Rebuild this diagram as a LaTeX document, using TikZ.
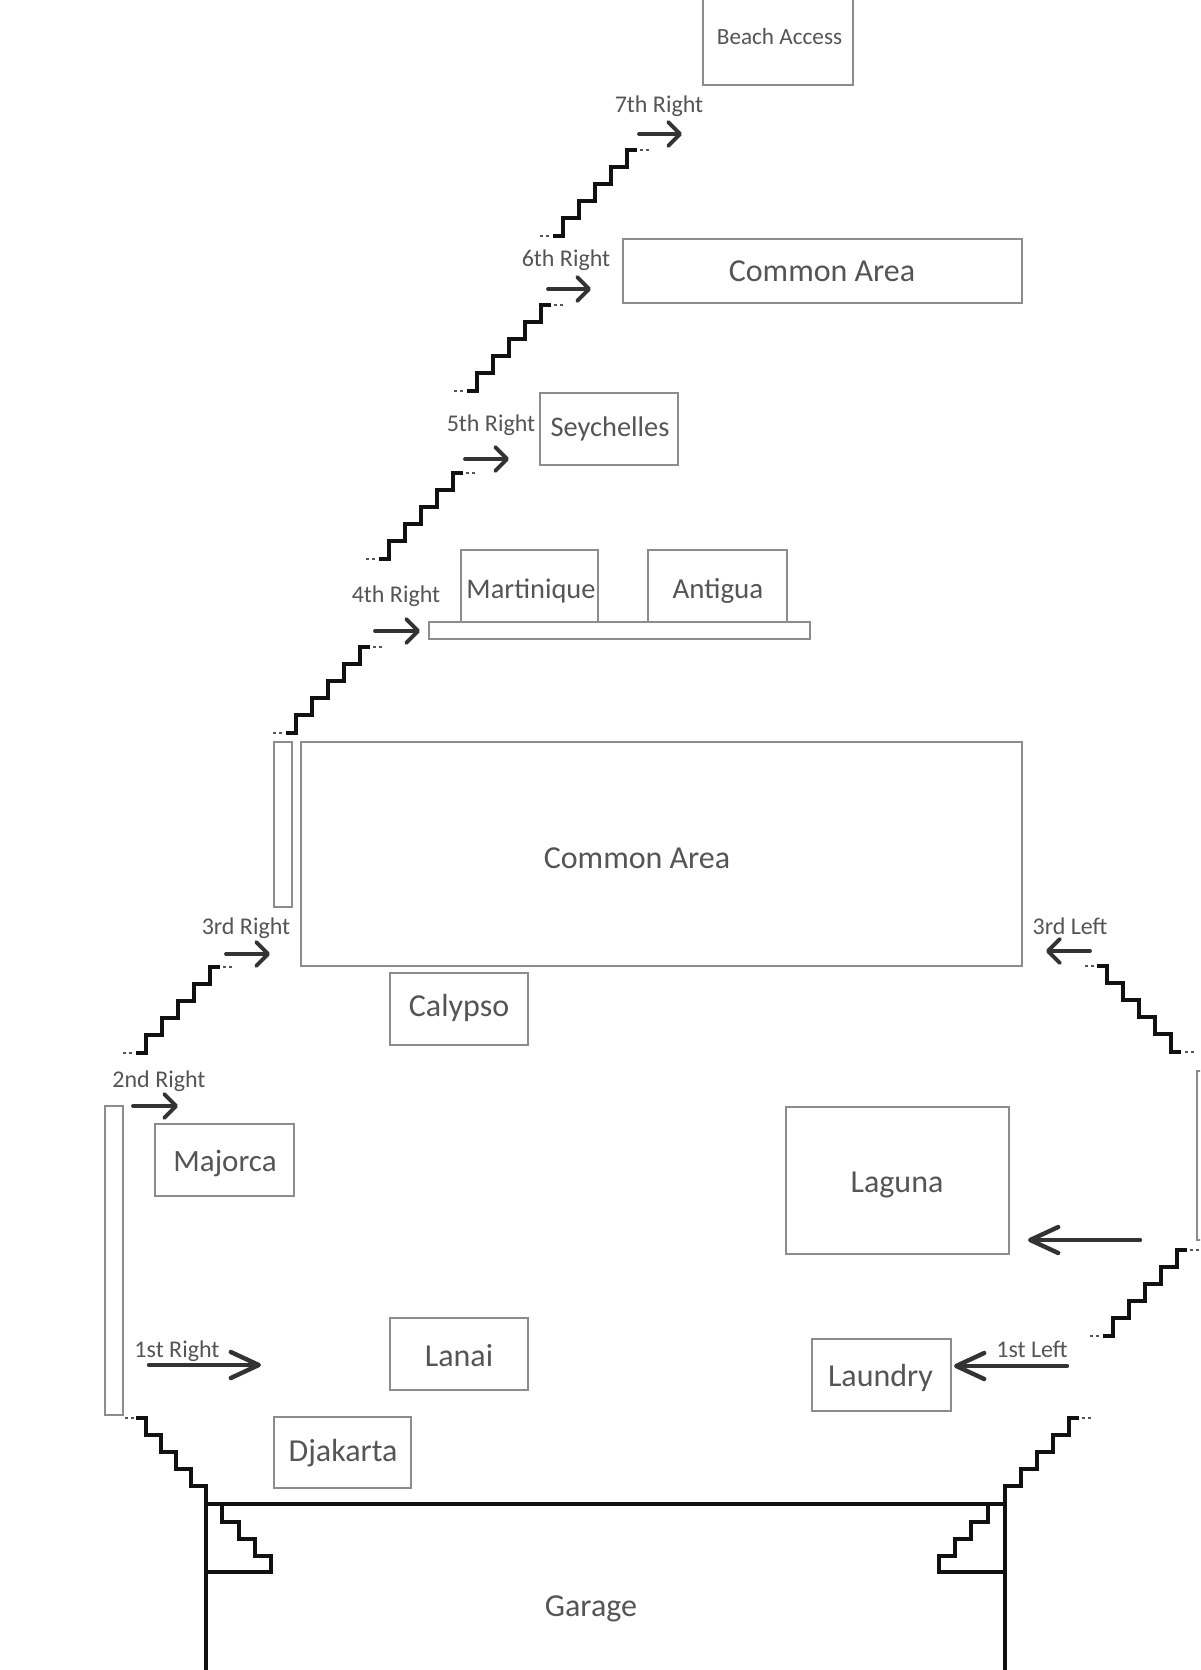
\documentclass[tikz,border=0pt]{standalone}
\usepackage{fontspec}
\setmainfont{Carlito}
\usetikzlibrary{arrows.meta}
\definecolor{boxgray}{HTML}{8C8C8C}
\definecolor{txtgray}{HTML}{555555}
\definecolor{ink}{HTML}{111111}
\definecolor{arrowink}{HTML}{333333}
\tikzset{
  roombox/.style={draw=boxgray,line width=0.9pt,fill=none,inner sep=0pt,outer sep=0pt},
  roomtext/.style={text=txtgray,font=\fontsize{16}{16}\selectfont,inner sep=0pt,text height=.7em,text depth=.2em,yshift=-2.6pt},
  turntext/.style={text=txtgray,font=\fontsize{12}{12}\selectfont,inner sep=0pt,text height=.7em,text depth=.2em,yshift=-1.6pt},
  stairline/.style={draw=ink,line width=1.75pt,line join=miter},
  stairdots/.style={draw=txtgray,line width=1.4pt,dash pattern=on 1.5pt off 1.5pt},
  wall/.style={draw=ink,line width=2pt,line join=miter},
  smallarrow/.style={draw=arrowink,line width=1.9pt,line cap=round,-{Straight Barb[length=6pt,width=12pt,round]}},
  bigarrow/.style={draw=arrowink,line width=2.2pt,line cap=round,-{Straight Barb[length=14pt,width=13pt,round]}}
}
\newcommand{\roomrect}[5]{%
  \pgfmathsetmacro{\rw}{(#4-#2)/2}\pgfmathsetmacro{\rh}{(#5-#3)/2}%
  \node[roombox,minimum width=\rw pt,minimum height=\rh pt] (#1) at ({(#2+#4)/2},{(#3+#5)/2}) {};}
\newcommand{\flight}[3]{%
  \begin{scope}[shift={(#1,#2)},xscale=#3]
    \draw[stairdots] (-23,0) -- (-11,0);
    \draw[stairdots] (77,-86) -- (88,-86);
    \draw[stairline] (-10,0) -- (0,0) -- (0,-18) -- (16,-18) -- (16,-35) -- (32,-35) -- (32,-52) -- (48,-52) -- (48,-69) -- (64,-69) -- (64,-86) -- (74,-86);
  \end{scope}}
\begin{document}
\begin{tikzpicture}[x=0.5pt,y=-0.5pt]
\clip (0,0) rectangle (1200,1670);
\fill[white] (0,0) rectangle (1200,1670);
% rooms
\roomrect{beach}{703}{-10}{853}{85}
\roomrect{commonup}{623}{239}{1022}{303}
\roomrect{seychelles}{540}{393}{678}{465}
\roomrect{martinique}{461}{550}{598}{622}
\roomrect{antigua}{648}{550}{787}{622}
\roomrect{corridor}{429}{622}{810}{639}
\roomrect{commonbig}{301}{742}{1022}{966}
\roomrect{narrow}{274}{742}{292}{907}
\roomrect{calypso}{390}{973}{528}{1045}
\roomrect{majorca}{155}{1124}{294}{1196}
\roomrect{longleft}{105}{1106}{123}{1415}
\roomrect{laguna}{786}{1107}{1009}{1254}
\roomrect{lanai}{390}{1318}{528}{1390}
\roomrect{laundry}{812}{1339}{951}{1411}
\roomrect{djakarta}{274}{1417}{411}{1488}
\roomrect{longright}{1197}{1071}{1215}{1240}
% room names
\node[roomtext,font=\fontsize{11.6}{11.6}\selectfont] (tbeach) at (779.5,34) {Beach Access};
\node[roomtext] (tcommonup) at (822,271) {Common Area};
\node[roomtext,font=\fontsize{14.2}{14.2}\selectfont] (tsey) at (610,426) {Seychelles};
\node[roomtext,font=\fontsize{14.2}{14.2}\selectfont] (tmart) at (531,588) {Martinique};
\node[roomtext,font=\fontsize{14.5}{14.5}\selectfont] (tant) at (718,588) {Antigua};
\node[roomtext] (tcommonbig) at (637,858) {Common Area};
\node[roomtext] (tcal) at (459,1006) {Calypso};
\node[roomtext,font=\fontsize{15.5}{15.5}\selectfont] (tmaj) at (225,1161) {Majorca};
\node[roomtext] (tlag) at (897,1182) {Laguna};
\node[roomtext] (tlan) at (459,1356) {Lanai};
\node[roomtext] (tlau) at (880.5,1376) {Laundry};
\node[roomtext] (tdja) at (343,1451) {Djakarta};
\node[roomtext] (tgar) at (591,1606) {Garage};
% turn labels
\node[turntext] (l7) at (659,104) {7th Right};
\node[turntext] (l6) at (566,258) {6th Right};
\node[turntext] (l5) at (491,423) {5th Right};
\node[turntext] (l4) at (396,594) {4th Right};
\node[turntext] (l3) at (246,926) {3rd Right};
\node[turntext] (l2) at (159,1079) {2nd Right};
\node[turntext] (l1) at (177,1349) {1st Right};
\node[turntext] (r1) at (1032,1349) {1st Left};
\node[turntext] (r3) at (1070,926) {3rd Left};
% stairs
\flight{563}{236}{1}
\flight{477}{391}{1}
\flight{389}{559}{1}
\flight{296}{733}{1}
\flight{146}{1053}{1}
\flight{1113}{1336}{1}
\flight{1171}{1052}{-1}
\flight{206}{1504}{-0.94}
\flight{1005}{1504}{1}
% garage
\coordinate (gtl) at (206,1504);
\coordinate (gtr) at (1005,1504);
\coordinate (gbl) at (206,1680);
\coordinate (gbr) at (1005,1680);
\draw[wall] (gbl) -- (gtl) -- (gtr) -- (gbr);
\draw[wall] (222,1504) -- (222,1522) -- (239,1522) -- (239,1539) -- (255,1539) -- (255,1556) -- (271,1556) -- (271,1572) -- (206,1572);
\draw[wall] (988,1504) -- (988,1522) -- (971,1522) -- (971,1539) -- (955,1539) -- (955,1556) -- (939,1556) -- (939,1572) -- (1005,1572);
% arrows
\foreach \nm/\xa/\xb/\yy in {a7/639/682/134,a6/548/591/289,a5/465/509/459,a4/375/420/631,a3/226/270/954,a2/133/178/1106,a3l/1090/1046/951}{
  \coordinate (\nm s) at (\xa,\yy);
  \coordinate (\nm e) at (\xb,\yy);
  \draw[smallarrow] (\nm s) -- (\nm e);
}
\foreach \nm/\xa/\xb/\yy in {a1/149/261/1365,a1l/1067/954/1366,alag/1140/1028/1240}{
  \coordinate (\nm s) at (\xa,\yy);
  \coordinate (\nm e) at (\xb,\yy);
  \draw[bigarrow] (\nm s) -- (\nm e);
}
\end{tikzpicture}
\end{document}
